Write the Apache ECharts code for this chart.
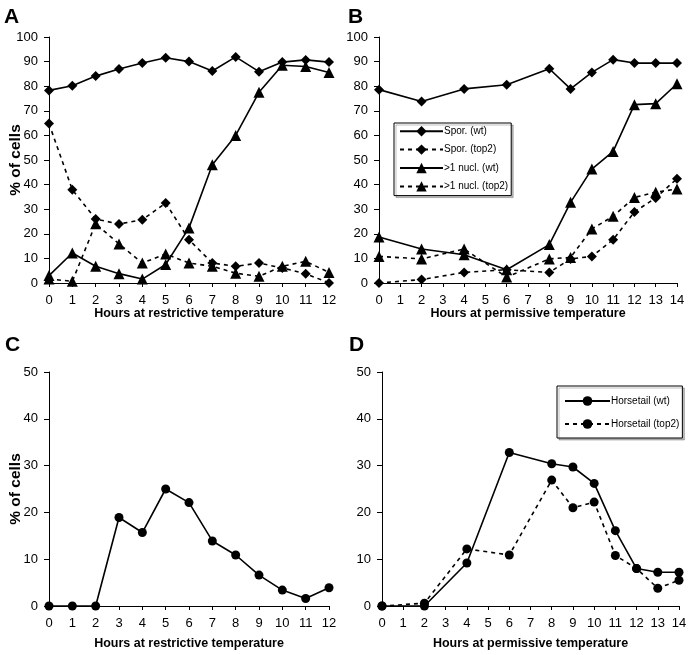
<!DOCTYPE html>
<html>
<head>
<meta charset="utf-8">
<script src="https://cdn.jsdelivr.net/npm/echarts@6/dist/echarts.min.js"></script>
<style>html,body{margin:0;padding:0;background:#fff}#c{width:688px;height:655px}</style>
</head>
<body>
<div id="c"></div>
<script>
// ---- Data ----
var hoursA = [0,1,2,3,4,5,6,7,8,9,10,11,12];
var sporWtA   = [78.3,80.2,84.1,87,89.4,91.6,90,86.2,91.9,85.9,89.8,90.7,89.8];
var sporTop2A = [64.8,37.9,26,24,25.7,32.5,17.6,8.1,6.8,8.1,6.1,3.8,0];
var nuclWtA   = [3,12.2,6.8,3.8,1.6,7.5,22.4,48.1,60,77.5,88.5,88,85.6];
var nuclTop2A = [1.6,0.7,24.1,15.9,8.1,11.8,8.1,6.8,4,2.7,6.8,8.8,4.3];

var hoursB = [0,2,4,6,8,9,10,11,12,13,14];
var sporWtB   = [78.6,73.8,78.9,80.6,87.1,78.9,85.6,90.8,89.4,89.4,89.4];
var sporTop2B = [0,1.4,4.3,5.4,4.3,9.8,10.8,17.6,28.9,34.6,42.4];
var nuclWtB   = [18.7,13.8,11.5,5.4,15.6,32.8,46.3,53.5,72.5,72.9,81];
var nuclTop2B = [10.8,9.8,13.8,2.4,9.8,10.4,22,27.1,34.8,36.9,38.2];

var hoursC = [0,1,2,3,4,5,6,7,8,9,10,11,12];
var horsetailC = [0,0,0,18.9,15.7,25,22.1,13.9,10.9,6.6,3.4,1.6,3.9];

var hoursD = [0,2,4,6,8,9,10,11,12,13,14];
var horsetailWtD   = [0,0,9.2,32.8,30.4,29.7,26.2,16.1,8,7.2,7.2];
var horsetailTop2D = [0,0.6,12.2,10.9,26.9,21,22.2,10.8,8,3.8,5.5];

var panelLetters = ['A','B','C','D'];
var xTitleA = 'Hours at restrictive temperature';
var xTitleB = 'Hours at permissive temperature';
var yTitle = '% of cells';

// ---- Helpers ----
function zip(xs, ys){ return xs.map(function(x,i){ return [x, ys[i]]; }); }
var FONT = '"Liberation Sans", Arial, sans-serif';
var DASH = [4,4];

function xAx(idx, max, title, gap){
  return {
    type:'value', gridIndex: idx, min:0, max:max, interval:1,
    name: title, nameLocation:'middle', nameGap: gap, nameMoveOverlap:false,
    nameTextStyle:{fontFamily:FONT, fontWeight:'bold', fontSize:12.5, color:'#000'},
    axisLine:{show:true, onZero:false, lineStyle:{color:'#000', width:1}},
    axisTick:{show:true, inside:false, length:4, lineStyle:{color:'#000'}},
    axisLabel:{fontFamily:FONT, fontSize:13, color:'#000', margin:11},
    splitLine:{show:false}
  };
}
function yAx(idx, max, title){
  return {
    type:'value', gridIndex: idx, min:0, max:max, interval:10,
    name: title || '', nameLocation:'middle', nameGap: 25, nameRotate:90, nameMoveOverlap:false,
    nameTextStyle:{fontFamily:FONT, fontWeight:'bold', fontSize:15.5, color:'#000'},
    axisLine:{show:true, lineStyle:{color:'#000', width:1}},
    axisTick:{show:true, inside:false, length:5, lineStyle:{color:'#000'}},
    axisLabel:{fontFamily:FONT, fontSize:13, color:'#000', margin:11},
    splitLine:{show:false}
  };
}
function ser(name, idx, xs, ys, symbol, size, dashed){
  return {
    type:'line', name:name, xAxisIndex:idx, yAxisIndex:idx,
    data: zip(xs, ys), symbol:symbol, symbolSize:size,
    itemStyle:{color:'#000'},
    lineStyle:{color:'#000', width:1.6, type: dashed ? DASH : 'solid'},
    emphasis:{disabled:true}, animation:false, z: dashed ? 2 : 3
  };
}

var chart = echarts.init(document.getElementById('c'), null, {renderer:'canvas'});
chart.setOption({
  animation:false,
  backgroundColor:'#fff',
  title: [
    {text:panelLetters[0], left:4, top:7},
    {text:panelLetters[1], left:348, top:7},
    {text:panelLetters[2], left:5, top:335},
    {text:panelLetters[3], left:349, top:335}
  ].map(function(t){ t.textStyle={fontFamily:FONT, fontWeight:'bold', fontSize:21, color:'#000'}; t.padding=0; return t; }),
  grid: [
    {left:49, top:37, width:280, height:246},
    {left:379, top:37, width:298, height:246},
    {left:49, top:372, width:280, height:234},
    {left:382, top:372, width:297, height:234}
  ].map(function(g){ g.containLabel=false; g.outerBoundsMode='none'; return g; }),
  xAxis: [
    xAx(0, 12, xTitleA, 24),
    xAx(1, 14, xTitleB, 24),
    xAx(2, 12, xTitleA, 31),
    xAx(3, 14, xTitleB, 31)
  ],
  yAxis: [
    yAx(0, 100, yTitle),
    yAx(1, 100, ''),
    yAx(2, 50, yTitle),
    yAx(3, 50, '')
  ],
  legend: [
    {
      data:['Spor. (wt)','Spor. (top2)','>1 nucl. (wt)','>1 nucl. (top2)'],
      orient:'vertical', left:394, top:123, itemWidth:43, itemHeight:13, itemGap:8,
      padding:[3,3,4,5], borderColor:'#000', borderWidth:1, backgroundColor:'#fff',
      shadowColor:'rgba(0,0,0,0.25)', shadowOffsetX:2, shadowOffsetY:2, shadowBlur:0,
      textStyle:{fontFamily:FONT, fontSize:10, color:'#000', padding:[0,0,0,-4]},
      selectedMode:false
    },
    {
      data:['Horsetail (wt)','Horsetail (top2)'],
      orient:'vertical', left:557, top:386, itemWidth:45, itemHeight:12, itemGap:13,
      padding:[10,3,9,7], borderColor:'#000', borderWidth:1, backgroundColor:'#fff',
      shadowColor:'rgba(0,0,0,0.25)', shadowOffsetX:2, shadowOffsetY:2, shadowBlur:0,
      textStyle:{fontFamily:FONT, fontSize:10, color:'#000', padding:[0,0,0,-4]},
      selectedMode:false
    }
  ],
  series: [
    ser('Spor. (wt)', 0, hoursA, sporWtA, 'diamond', 10, false),
    ser('Spor. (top2)', 0, hoursA, sporTop2A, 'diamond', 10, true),
    ser('>1 nucl. (wt)', 0, hoursA, nuclWtA, 'triangle', 11, false),
    ser('>1 nucl. (top2)', 0, hoursA, nuclTop2A, 'triangle', 11, true),
    ser('Spor. (wt)', 1, hoursB, sporWtB, 'diamond', 10, false),
    ser('Spor. (top2)', 1, hoursB, sporTop2B, 'diamond', 10, true),
    ser('>1 nucl. (wt)', 1, hoursB, nuclWtB, 'triangle', 11, false),
    ser('>1 nucl. (top2)', 1, hoursB, nuclTop2B, 'triangle', 11, true),
    ser('Horsetail', 2, hoursC, horsetailC, 'circle', 9, false),
    ser('Horsetail (wt)', 3, hoursD, horsetailWtD, 'circle', 9, false),
    ser('Horsetail (top2)', 3, hoursD, horsetailTop2D, 'circle', 9, true)
  ]
});
</script>
</body>
</html>
